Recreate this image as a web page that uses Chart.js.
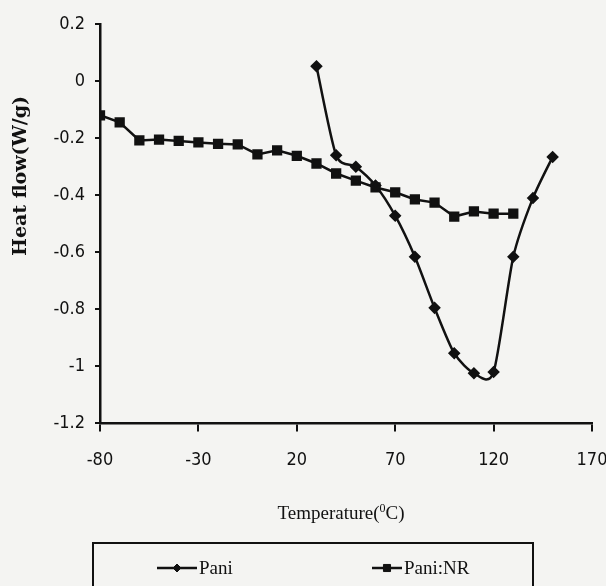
<!DOCTYPE html>
<html>
<head>
<meta charset="utf-8">
<script src="https://cdn.jsdelivr.net/npm/chart.js@4"></script>
<style>
  html, body { margin: 0; padding: 0; background: #f4f4f2; }
</style>
</head>
<body>
<canvas id="myChart" width="606" height="586"></canvas>
<script>
// data
const paniTemps = [30, 40, 50, 60, 70, 80, 90, 100, 110, 120, 130, 140, 150];
const paniFlow  = [0.052, -0.26, -0.30, -0.366, -0.472, -0.616, -0.795, -0.954, -1.024, -1.02, -0.616, -0.41, -0.266];

const nrTemps = [-80, -70, -60, -50, -40, -30, -20, -10, 0, 10, 20, 30, 40, 50, 60, 70, 80, 90, 100, 110, 120, 130];
const nrFlow  = [-0.12, -0.145, -0.208, -0.205, -0.21, -0.215, -0.22, -0.222, -0.257, -0.243, -0.262, -0.289, -0.324, -0.349, -0.373, -0.39, -0.415, -0.426, -0.475, -0.457, -0.465, -0.465];

const xTicks = [-80, -30, 20, 70, 120, 170];
const yTicks = [0.2, 0, -0.2, -0.4, -0.6, -0.8, -1, -1.2];

const seriesNames = ['Pani', 'Pani:NR'];

const ink = '#111';
const tickFont = { family: '"DejaVu Sans Condensed", "DejaVu Sans", sans-serif', size: 18 };
const toPoints = (xs, ys) => xs.map((x, i) => ({x: x, y: ys[i]}));

// excel-like smoothing: catmull-rom style control points on the pixel positions
const smoothLine = {
  id: 'smoothLine',
  beforeDatasetDraw(chart, args) {
    const ds = chart.data.datasets[args.index];
    if (!ds.smooth) return;
    const line = args.meta.dataset;
    const pts = args.meta.data;
    line.updateControlPoints(chart.chartArea, 'x');
    for (let i = 0; i < pts.length; i++) {
      const p = pts[i];
      const a = pts[Math.max(i - 1, 0)];
      const b = pts[Math.min(i + 1, pts.length - 1)];
      const dx = (b.x - a.x) / 8, dy = (b.y - a.y) / 8;
      p.cp1x = p.x - dx; p.cp1y = p.y - dy;
      p.cp2x = p.x + dx; p.cp2y = p.y + dy;
    }
    line._path = undefined;
  }
};

const extras = {
  id: 'extras',
  afterDraw(chart) {
    const ctx = chart.ctx;
    ctx.save();
    ctx.fillStyle = ink;
    ctx.strokeStyle = ink;

    // y title
    ctx.save();
    ctx.font = 'bold 19px "DejaVu Serif"';
    ctx.translate(21, 176);
    ctx.rotate(-Math.PI / 2);
    ctx.textAlign = 'center';
    ctx.textBaseline = 'middle';
    ctx.fillText('Heat flow(W/g)', 0, 0);
    ctx.restore();

    // x title with superscript 0
    ctx.textBaseline = 'alphabetic';
    ctx.textAlign = 'left';
    const big = '19px "Liberation Serif"', small = '12px "Liberation Serif"';
    const a = 'Temperature(', b = '0', c = 'C)';
    ctx.font = big; const wa = ctx.measureText(a).width, wc = ctx.measureText(c).width;
    ctx.font = small; const wb = ctx.measureText(b).width;
    let tx = 341 - (wa + wb + wc) / 2;
    const ty = 519;
    ctx.font = big; ctx.fillText(a, tx, ty); tx += wa;
    ctx.font = small; ctx.fillText(b, tx, ty - 7); tx += wb;
    ctx.font = big; ctx.fillText(c, tx, ty);

    // legend box
    ctx.lineWidth = 2;
    ctx.strokeRect(93, 543, 440, 70);
    const spots = [[157, 40], [372, 30]];
    chart.data.datasets.forEach((ds, i) => {
      const [x0, w] = spots[i];
      const y = 568;
      ctx.lineWidth = 2.5;
      ctx.beginPath();
      ctx.moveTo(x0, y);
      ctx.lineTo(x0 + w, y);
      ctx.stroke();
      ctx.lineWidth = 1;
      Chart.helpers.drawPoint(ctx, {pointStyle: ds.pointStyle, radius: ds.pointRadius - 0.5, rotation: 0, borderWidth: 1}, x0 + w / 2, y);
      ctx.font = big;
      ctx.textBaseline = 'middle';
      ctx.fillText(ds.label, x0 + w + 2, y + 1);
    });
    ctx.restore();
  }
};

new Chart(document.getElementById('myChart'), {
  type: 'line',
  data: {
    datasets: [
      {
        label: seriesNames[0],
        data: toPoints(paniTemps, paniFlow),
        borderColor: ink,
        backgroundColor: ink,
        borderWidth: 2.5,
        pointStyle: 'rectRot',
        pointRadius: 4.5,
        tension: 0.3,
        smooth: true
      },
      {
        label: seriesNames[1],
        data: toPoints(nrTemps, nrFlow),
        borderColor: ink,
        backgroundColor: ink,
        borderWidth: 2.5,
        pointStyle: 'rect',
        pointRadius: 5.5,
        tension: 0
      }
    ]
  },
  options: {
    responsive: false,
    animation: false,
    devicePixelRatio: 1,
    layout: { padding: { left: 30, top: 24, right: 14, bottom: 97 } },
    plugins: { legend: { display: false }, tooltip: { enabled: false } },
    scales: {
      x: {
        type: 'linear',
        min: xTicks[0],
        max: xTicks[xTicks.length - 1],
        afterBuildTicks: (s) => { s.ticks = xTicks.map(v => ({value: v})); },
        afterFit: (s) => { s.paddingLeft = 0; s.paddingRight = 0; },
        grid: { drawOnChartArea: false, drawTicks: true, tickLength: 8, color: ink, lineWidth: 2 },
        border: { display: true, color: ink, width: 2.5 },
        ticks: { color: ink, padding: 18, maxRotation: 0, font: tickFont }
      },
      y: {
        min: yTicks[yTicks.length - 1],
        max: yTicks[0],
        afterBuildTicks: (s) => { s.ticks = yTicks.map(v => ({value: v})); },
        afterFit: (s) => { s.width = 70; },
        grid: { drawOnChartArea: false, drawTicks: true, tickLength: 5, color: ink, lineWidth: 2 },
        border: { display: true, color: ink, width: 2.5 },
        ticks: {
          color: ink, padding: 10, font: tickFont,
          callback: (v) => String(Number(v.toFixed(1)))
        }
      }
    }
  },
  plugins: [smoothLine, extras]
});
</script>
</body>
</html>
